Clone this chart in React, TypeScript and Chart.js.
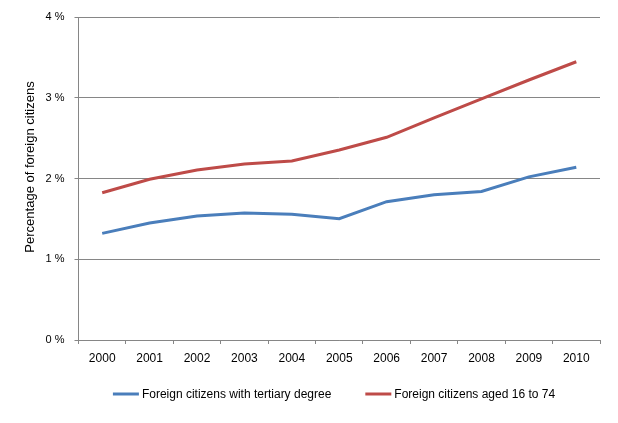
import React, { useEffect, useRef } from "react";
import { Chart, registerables } from "chart.js";

Chart.register(...registerables);

const years = ["2000", "2001", "2002", "2003", "2004", "2005", "2006", "2007", "2008", "2009", "2010"];
const tertiary = [1.32, 1.45, 1.535, 1.573, 1.556, 1.502, 1.713, 1.8, 1.84, 2.02, 2.14];
const aged16to74 = [1.824, 1.99, 2.105, 2.18, 2.217, 2.353, 2.51, 2.75, 2.985, 3.22, 3.446];
const seriesNames = ["Foreign citizens with tertiary degree", "Foreign citizens aged 16 to 74"];
const yTicks = [0, 1, 2, 3, 4];
const yTitle = "Percentage of foreign citizens";

const BLUE = "#4A7EBB";
const RED = "#BE4B48";
const GRID = "#868686";
const FONT = "'Liberation Sans', Arial, sans-serif";

// legend + axis title drawn as real canvas text
const annotations = {
  id: "annotations",
  afterDraw(chart: any) {
    const ctx = chart.ctx as CanvasRenderingContext2D;
    ctx.save();
    // y-axis title
    ctx.font = `13px ${FONT}`;
    ctx.fillStyle = "#000";
    ctx.textAlign = "center";
    ctx.textBaseline = "middle";
    ctx.translate(30, 167);
    ctx.rotate(-Math.PI / 2);
    ctx.fillText(yTitle, 0, 0);
    ctx.restore();

    // legend
    ctx.save();
    ctx.font = `12px ${FONT}`;
    ctx.textBaseline = "middle";
    ctx.textAlign = "left";
    const lineW = 26;
    const gapText = 3;
    const gapItems = 34;
    const y = 394;
    const ds = chart.data.datasets;
    const widths = ds.map((d: any) => lineW + gapText + ctx.measureText(d.label).width);
    const total = widths.reduce((a: number, b: number) => a + b, 0) + gapItems * (ds.length - 1);
    let x = 334 - total / 2;
    ds.forEach((d: any, i: number) => {
      ctx.strokeStyle = d.borderColor;
      ctx.lineWidth = 3;
      ctx.beginPath();
      ctx.moveTo(x, y);
      ctx.lineTo(x + lineW, y);
      ctx.stroke();
      ctx.fillStyle = "#000";
      ctx.fillText(d.label, x + lineW + gapText, y + 0.5);
      x += widths[i] + gapItems;
    });
    ctx.restore();
  },
};

export default function App() {
  const ref = useRef<HTMLCanvasElement | null>(null);

  useEffect(() => {
    document.body.style.margin = "0";
    if (!ref.current) return;
    const chart = new Chart(ref.current, {
      type: "line",
      data: {
        labels: years,
        datasets: [
          {
            label: seriesNames[0],
            data: tertiary,
            borderColor: BLUE,
            backgroundColor: BLUE,
            borderWidth: 3,
            pointRadius: 0,
            tension: 0,
          },
          {
            label: seriesNames[1],
            data: aged16to74,
            borderColor: RED,
            backgroundColor: RED,
            borderWidth: 3,
            pointRadius: 0,
            tension: 0,
          },
        ],
      },
      plugins: [annotations],
      options: {
        animation: false,
        responsive: false,
        devicePixelRatio: 1,
        layout: { padding: { left: 0, right: 18, top: 17, bottom: 43 } },
        plugins: {
          tooltip: { enabled: false },
          legend: { display: false },
        },
        scales: {
          x: {
            offset: true,
            afterFit: (s: any) => {
              s.height = 40;
            },
            grid: {
              offset: true,
              drawOnChartArea: false,
              drawTicks: true,
              tickLength: 4,
              color: GRID,
            },
            border: { color: GRID, width: 1 },
            ticks: {
              color: "#000",
              padding: 7,
              maxRotation: 0,
              autoSkip: false,
              font: { family: FONT, size: 12 },
            },
          },
          y: {
            min: 0,
            max: 4,
            afterFit: (s: any) => {
              s.width = 78.5;
            },
            afterBuildTicks: (s: any) => {
              s.ticks = yTicks.map((v) => ({ value: v }));
            },
            grid: {
              color: GRID,
              drawTicks: true,
              tickLength: 4,
            },
            border: { color: GRID, width: 1 },
            ticks: {
              color: "#000",
              padding: 10,
              font: { family: FONT, size: 11 },
              callback: (v: any) => `${v} %`,
            },
          },
        },
      },
    });
    return () => chart.destroy();
  }, []);

  return (
    <div style={{ width: 618, height: 423, position: "relative" }}>
      <canvas ref={ref} width={618} height={423} />
    </div>
  );
}
